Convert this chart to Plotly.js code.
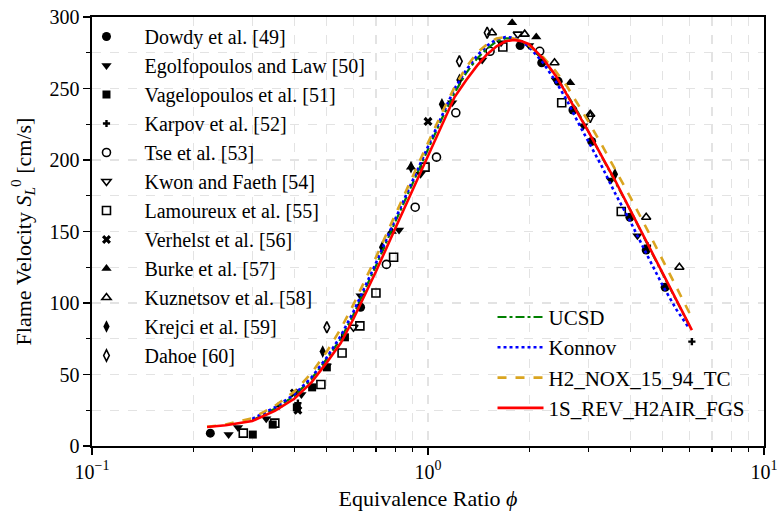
<!DOCTYPE html>
<html>
<head>
<meta charset="utf-8">
<script src="https://cdn.plot.ly/plotly-3.0.1.min.js"></script>
<style>html,body{margin:0;padding:0;background:#fff;}#plot{width:778px;height:511px;}</style>
</head>
<body>
<div id="plot"></div>
<script>
// ---- experimental data (phi, laminar flame speed cm/s) ----
const dowdyPhi = [0.225, 0.63, 1.88, 2.18, 2.44, 2.70, 3.07, 3.99, 4.46, 5.08];
const dowdyS   = [9, 97, 280, 268, 255, 235, 213, 160, 137, 111];
const egolPhi  = [0.255, 0.272, 0.33, 0.42, 0.5, 0.63, 0.82, 0.95, 1.18, 1.45, 1.65, 2.0, 2.4, 2.9, 3.5, 4.2];
const egolS    = [8, 13, 19, 36, 56, 105, 151, 190, 240, 270, 282, 280, 256, 224, 186, 147];
const vagelPhi = [0.301, 0.345, 0.407, 0.452, 0.50, 0.566];
const vagelS   = [8, 15, 27, 41, 55, 76];
const karpovPhi = [0.36, 0.41, 4.5, 6.1];
const karpovS   = [28, 30, 140, 73];
const tsePhi   = [0.752, 0.916, 1.06, 1.21, 1.53, 2.15];
const tseS     = [127, 167, 202, 233, 276, 276];
const kwonPhi  = [0.6, 1.85];
const kwonS    = [83, 288];
const lamPhi   = [0.282, 0.35, 0.48, 0.555, 0.627, 0.70, 0.79, 0.98, 1.67, 2.5, 3.76];
const lamS     = [9, 16, 43, 65, 84, 107, 132, 195, 279, 240, 164];
const verPhi   = [0.40, 0.41, 1.0];
const verS     = [37, 25, 227];
const burkePhi = [0.78, 0.89, 1.78, 2.1, 2.65];
const burkeS   = [150, 195, 296, 286, 254];
const kuzPhi   = [1.55, 1.94, 2.38, 3.04, 4.46, 5.6];
const kuzS     = [289, 288, 268, 232, 160, 125];
const krejciPhi = [0.486, 0.73, 0.89, 1.1, 1.24, 3.6];
const krejciS   = [66, 139, 195, 239, 256, 190];
const dahoePhi = [0.50, 1.24, 1.5, 3.04];
const dahoeS   = [83, 269, 289, 230];

// ---- model curves ----
const ucsdPhi = [0.3, 0.35, 0.4, 0.45, 0.5, 0.55, 0.6, 0.7, 0.8, 0.9, 1.0, 1.1, 1.2, 1.3, 1.4, 1.5, 1.6, 1.7, 1.8, 1.9, 2.0, 2.2, 2.4, 2.6, 2.8, 3.0, 3.3, 3.6, 4.0, 4.5, 5.0, 5.5, 6.0];
const ucsdS   = [18, 26, 35, 47, 61, 75, 92, 126, 157, 184, 208, 229, 247, 261, 271, 278, 283, 285, 285, 283, 280, 270, 259, 246, 233, 220, 202, 185, 165, 141, 120, 101, 84];
const konnovPhi = [0.3, 0.35, 0.4, 0.45, 0.5, 0.55, 0.6, 0.7, 0.8, 0.9, 1.0, 1.1, 1.2, 1.3, 1.4, 1.5, 1.6, 1.7, 1.8, 1.9, 2.0, 2.2, 2.4, 2.6, 2.8, 3.0, 3.3, 3.6, 4.0, 4.5, 5.0, 5.5, 6.0];
const konnovS   = [19, 27, 36, 48, 62, 77, 94, 128, 159, 186, 210, 231, 250, 263, 273, 280, 284.5, 286, 285.5, 283, 279, 268, 255, 241, 226, 213, 195, 177, 157, 133, 112, 95, 82];
const noxPhi = [0.22, 0.25, 0.3, 0.35, 0.4, 0.45, 0.5, 0.55, 0.6, 0.7, 0.8, 0.9, 1.0, 1.1, 1.2, 1.3, 1.4, 1.5, 1.6, 1.7, 1.8, 1.9, 2.0, 2.2, 2.4, 2.6, 2.8, 3.0, 3.3, 3.6, 4.0, 4.5, 5.0, 5.5, 6.0];
const noxS   = [13.5, 15, 19.5, 28, 38, 51, 66, 82, 99, 132, 162, 189, 212, 233, 251, 265, 275, 281, 285, 286, 285, 283, 280, 272, 262, 251, 239, 227, 210, 194, 174, 151, 130, 111, 93];
const revPhi = [0.22, 0.25, 0.3, 0.35, 0.4, 0.45, 0.5, 0.55, 0.6, 0.7, 0.8, 0.9, 1.0, 1.1, 1.2, 1.3, 1.4, 1.5, 1.6, 1.7, 1.8, 1.9, 2.0, 2.2, 2.4, 2.6, 2.8, 3.0, 3.3, 3.6, 4.0, 4.5, 5.0, 5.5, 6.1];
const revS   = [13.3, 14.5, 17.5, 24.5, 33, 44.5, 58.5, 72, 89, 122, 152.5, 179, 203, 224.5, 244, 256, 266, 274, 279.5, 283, 284, 283, 281, 271, 259, 245, 232, 220, 202, 186, 165, 141.5, 120.5, 101, 81];

const xTickVals = [0.1, 1, 10];
const xTickText = ['10<sup>−1</sup>', '10<sup>0</sup>', '10<sup>1</sup>'];
const xMinorVals = [0.2,0.3,0.4,0.5,0.6,0.7,0.8,0.9,2,3,4,5,6,7,8,9];

const FONT = '"Liberation Serif", "Times New Roman", serif';

function mk(name, x, y, symbol, size, open) {
  return {
    type: 'scatter', mode: 'markers', name: name, x: x, y: y, legend: 'legend',
    marker: {symbol: symbol, size: size, color: '#000',
             line: {color: '#000', width: open ? 1.6 : 0}}
  };
}
function ln(name, x, y, color, dash, width) {
  return {type: 'scatter', mode: 'lines', name: name, x: x, y: y, legend: 'legend2',
          line: {color: color, dash: dash, width: width}};
}

const data = [
  mk('Dowdy et al. [49]', dowdyPhi, dowdyS, 'circle', 9, false),
  mk('Egolfopoulos and Law [50]', egolPhi, egolS, 'triangle-down', 9, false),
  mk('Vagelopoulos et al. [51]', vagelPhi, vagelS, 'square', 8, false),
  mk('Karpov et al. [52]', karpovPhi, karpovS, 'cross', 6, false),
  mk('Tse et al. [53]', tsePhi, tseS, 'circle-open', 8, true),
  mk('Kwon and Faeth [54]', kwonPhi, kwonS, 'triangle-down-open', 8, true),
  mk('Lamoureux et al. [55]', lamPhi, lamS, 'square-open', 8, true),
  mk('Verhelst et al. [56]', verPhi, verS, 'x', 8, false),
  mk('Burke et al. [57]', burkePhi, burkeS, 'triangle-up', 9, false),
  mk('Kuznetsov et al. [58]', kuzPhi, kuzS, 'triangle-up-open', 8, true),
  mk('Krejci et al. [59]', krejciPhi, krejciS, 'diamond-tall', 9, false),
  mk('Dahoe [60]', dahoePhi, dahoeS, 'diamond-tall-open', 8, true),
  ln('UCSD', ucsdPhi, ucsdS, '#008000', 'dashdot', 2.2),
  ln('Konnov', konnovPhi, konnovS, '#0000ff', 'dot', 2.6),
  ln('H2_NOX_15_94_TC', noxPhi, noxS, '#daa520', 'dash', 2.6),
  ln('1S_REV_H2AIR_FGS', revPhi, revS, '#ff0000', 'solid', 2.6)
];

const grid = '#e3e3e3';
const layout = {
  width: 778, height: 511,
  margin: {l: 92, r: 14, t: 17, b: 65},
  paper_bgcolor: '#fff', plot_bgcolor: '#fff',
  font: {family: FONT, size: 20, color: '#000'},
  showlegend: true,
  xaxis: {
    type: 'log', range: [-1, 1],
    tickmode: 'array', tickvals: xTickVals, ticktext: xTickText,
    ticks: 'outside', ticklen: 7, tickwidth: 1.2, tickcolor: '#000',
    showline: true, linecolor: '#000', linewidth: 1.6, mirror: true,
    showgrid: true, gridcolor: grid, griddash: 'dash', gridwidth: 1.2,
    zeroline: false,
    tickfont: {family: FONT, size: 20},
    minor: {tickmode: 'array', tickvals: xMinorVals, ticks: 'outside', ticklen: 4, tickcolor: '#000',
            showgrid: true, gridcolor: grid, griddash: 'dash', gridwidth: 1.2},
    title: {text: 'Equivalence Ratio <i>ϕ</i>', font: {family: FONT, size: 22}, standoff: 10}
  },
  yaxis: {
    range: [0, 300], dtick: 50, tick0: 0,
    ticks: 'outside', ticklen: 7, tickwidth: 1.2, tickcolor: '#000',
    showline: true, linecolor: '#000', linewidth: 1.6, mirror: true,
    showgrid: true, gridcolor: grid, griddash: 'dash', gridwidth: 1.2,
    zeroline: false,
    tickfont: {family: FONT, size: 20},
    minor: {dtick: 25, ticks: 'outside', ticklen: 4, tickcolor: '#000',
            showgrid: true, gridcolor: grid, griddash: 'dash', gridwidth: 1.2},
    title: {text: 'Flame Velocity <i>S</i><sub><i>L</i></sub><sup>0</sup> [cm/s]', font: {family: FONT, size: 22}, standoff: 12}
  },
  legend: {x: -0.035, y: 1, xanchor: 'left', yanchor: 'top', bgcolor: 'rgba(0,0,0,0)',
           font: {family: FONT, size: 20}, itemwidth: 66, tracegroupgap: 0},
  legend2: {x: 0.596, y: 0.04, xanchor: 'left', yanchor: 'bottom', bgcolor: 'rgba(0,0,0,0)',
            font: {family: FONT, size: 21}, itemwidth: 46, tracegroupgap: 0}
};

Plotly.newPlot('plot', data, layout, {displayModeBar: false, staticPlot: true});
</script>
</body>
</html>
